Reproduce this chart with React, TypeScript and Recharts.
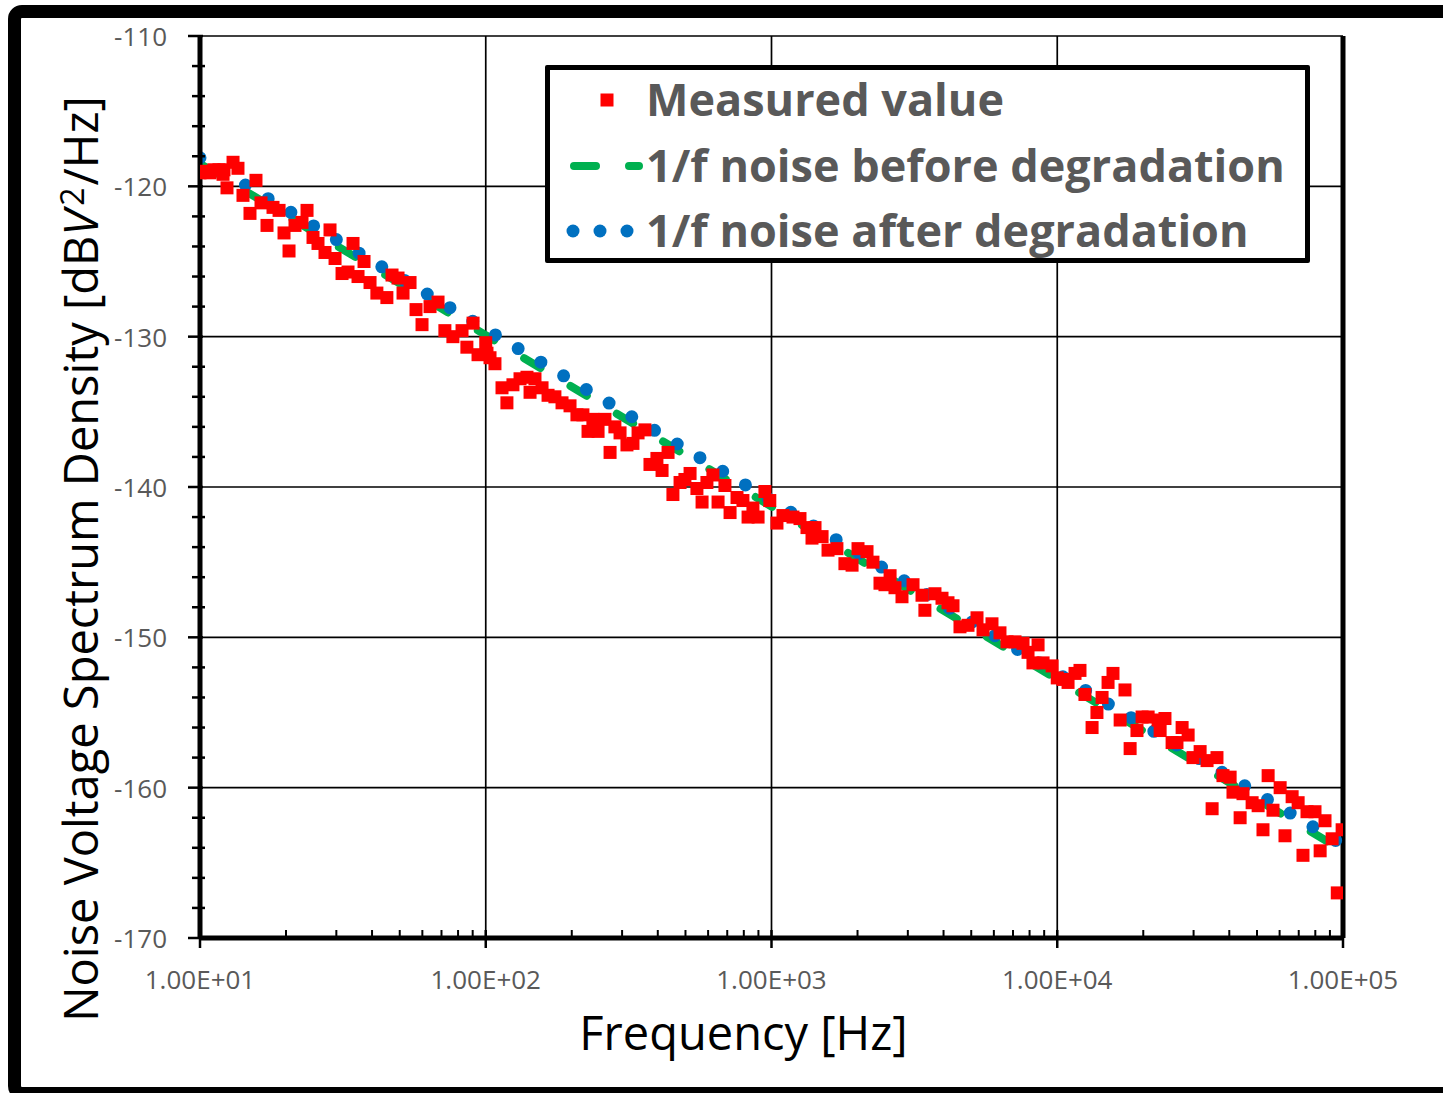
import React from "react";
import {
  CartesianGrid,
  ComposedChart,
  Label,
  Legend,
  Line,
  ReferenceLine,
  Scatter,
  XAxis,
  YAxis,
} from "recharts";

// measured spectrum
const measuredFreq = [
  10, 10.41, 10.84, 11.19, 11.65, 12.04, 12.13, 12.43, 13.05, 13.58, 14.14,
  14.96, 15.7, 16.35, 17.16, 18.01, 18.91, 19.68, 20.49, 21.5, 22.75, 23.69,
  24.86, 25.88, 27.38, 28.51, 29.69, 31.41, 32.96, 34.32, 35.73, 37.5, 39.36,
  41.59, 45.08, 46.99, 49.32, 51.35, 54.33, 57.02, 59.84, 63.83, 68.08, 71.94,
  76.74, 82.6, 85.9, 90.28, 93.97,
  100, 101, 103.5, 107.7, 114, 118.6, 124.5, 131.8, 139.4, 142.9, 148.7, 157.4,
  165.2, 174.6, 184.9, 197.2, 208.5, 218.8, 228, 237.1, 247.2, 261.3, 272.3,
  283.1, 295.1, 312, 327.5, 341.2, 360.6, 375.6, 397.2, 414, 434.5, 451.9,
  478.6, 497.7, 518.8, 548.3, 571.5, 594.3, 623.7, 650.1, 687.1, 716.1, 757.4,
  794.3, 827.9, 861, 897.5, 948.4, 986.3,
  1045, 1097, 1189, 1258, 1331, 1386, 1420, 1503, 1577, 1694, 1807, 1914, 2008,
  2159, 2265, 2397, 2495, 2600, 2705, 2862, 3128, 3363, 3442, 3733, 3951, 4146,
  4317, 4567, 4871, 5238, 5499, 5910, 6303, 6671, 7116, 7590, 7902, 8222, 8568,
  8920, 9597,
  10000, 10470, 10910, 11540, 12010, 12500, 13240, 13770, 14350, 15060, 15670,
  16600, 17260, 17990, 19010, 19810, 20800, 22540, 22910, 23820, 25230, 26240,
  27350, 28710, 29860, 31620, 33440, 34830, 36220, 38020, 40270, 41210, 43650,
  44670, 48080, 50470, 52480, 54700, 56890, 60260, 62660, 66370, 69660, 72440,
  74820, 79800, 83180, 86500, 91600, 95500, 99300,
];
const measuredDb = [
  -119.1, -119.0, -119.1, -118.9, -118.9, -119.2, -118.9, -120.1, -118.4,
  -118.8, -120.6, -121.8, -119.6, -121.1, -122.6, -121.4, -121.6, -123.1,
  -124.3, -122.6, -122.4, -121.6, -123.4, -123.8, -124.4, -122.9, -124.8,
  -125.8, -125.7, -123.8, -126.0, -125.0, -126.4, -127.1, -127.4, -125.9,
  -126.1, -127.1, -126.4, -128.2, -129.2, -128.0, -127.7, -129.6, -130.0,
  -129.6, -130.7, -129.1, -131.2,
  -130.4, -131.1, -131.4, -131.8, -133.4, -134.4, -133.2, -132.8, -132.7,
  -133.7, -132.8, -133.4, -133.9, -134.0, -134.4, -134.6, -135.2, -135.2,
  -136.3, -135.5, -136.3, -135.5, -137.7, -136.0, -136.4, -137.2, -137.1,
  -136.4, -136.2, -138.5, -138.1, -138.9, -137.7, -140.5, -139.7, -139.5,
  -139.1, -140.1, -141.0, -139.7, -139.2, -141.0, -139.9, -141.7, -140.7,
  -140.9, -142.0, -141.4, -142.0, -140.3, -140.9,
  -142.4, -141.9, -142.0, -142.1, -142.7, -143.4, -142.7, -143.3, -144.2,
  -144.1, -145.1, -145.2, -144.1, -144.3, -145.0, -146.4, -146.5, -145.9,
  -146.7, -147.3, -146.5, -147.2, -148.2, -147.1, -147.4, -147.7, -147.9,
  -149.3, -149.2, -148.7, -149.5, -149.1, -149.7, -150.3, -150.3, -150.4,
  -151.0, -151.7, -150.5, -151.7, -151.9,
  -152.7, -152.8, -153.0, -152.4, -152.2, -153.8, -156.0, -155.0, -154.0,
  -153.0, -152.4, -155.5, -153.5, -157.4, -156.2, -155.3, -155.3, -155.5,
  -156.2, -155.4, -157.0, -157.0, -156.0, -156.5, -158.0, -157.6, -158.2,
  -161.4, -158.0, -159.2, -159.3, -160.3, -162.0, -160.4, -161.0, -161.2,
  -162.8, -159.2, -161.5, -160.0, -163.2, -160.6, -161.0, -164.5, -161.6,
  -161.6, -164.2, -162.2, -163.4, -167.0, -162.8,
];

// 1/f fits, read at each decade
const fitFreq = [10, 100, 1000, 10000, 100000];
const beforeDb = [-118.5, -129.9, -141.3, -152.8, -164.2];
const afterDb = [-118.1, -129.5, -140.9, -152.4, -163.8];

const xMajorTicks = [10, 100, 1000, 10000, 100000];
const xTickLabels = ["1.00E+01", "1.00E+02", "1.00E+03", "1.00E+04", "1.00E+05"];
const xMinorSteps = [2, 3, 4, 5, 6, 7, 8, 9];
const yMajorTicks = [-170, -160, -150, -140, -130, -120, -110];
const yMinorStep = 2;

const measured = measuredFreq.map((f, i) => ({ f, db: measuredDb[i] }));
const before = fitFreq.map((f, i) => ({ f, db: beforeDb[i] }));
const after = fitFreq.map((f, i) => ({ f, db: afterDb[i] }));

const xTicks = xMajorTicks.flatMap((d, i) =>
  i < xMajorTicks.length - 1 ? [d, ...xMinorSteps.map((s) => s * d)] : [d]
);
const yTicks: number[] = [];
for (let v = yMajorTicks[0]; v <= yMajorTicks[yMajorTicks.length - 1]; v += yMinorStep) yTicks.push(v);

const tickGrey = "#595959";

function XTick({ x, y, payload }: any) {
  const i = xMajorTicks.indexOf(payload.value);
  if (i < 0) {
    return <line x1={x} x2={x} y1={y - 8} y2={y} stroke="#000" strokeWidth={2} />;
  }
  return (
    <g>
      <line x1={x} x2={x} y1={y - 8} y2={y + 10} stroke="#000" strokeWidth={2.5} />
      <text x={x} y={y + 51} textAnchor="middle" fontSize={26} fill={tickGrey}>
        {xTickLabels[i]}
      </text>
    </g>
  );
}

function YTick({ x, y, payload }: any) {
  const major = payload.value % 10 === 0;
  return (
    <g>
      <line
        x1={major ? x - 12 : x - 8}
        x2={major ? x + 3 : x + 5}
        y1={y}
        y2={y}
        stroke="#000"
        strokeWidth={2.5}
      />
      {major && (
        <text x={x - 33} y={y + 10} textAnchor="end" fontSize={26} fill={tickGrey}>
          {payload.value}
        </text>
      )}
    </g>
  );
}

function YTitle({ viewBox }: any) {
  const cx = viewBox.x + viewBox.width - 102;
  const cy = viewBox.y + viewBox.height / 2 + 72;
  return (
    <text
      x={cx}
      y={cy}
      transform={`rotate(-90 ${cx} ${cy})`}
      textAnchor="middle"
      fontSize={47}
      fill="#000"
    >
      Noise Voltage Spectrum Density [dB
      <tspan fontStyle="italic">V</tspan>
      <tspan fontSize={32} dy={-14} dx={4}>2</tspan>
      <tspan dy={14} dx={2}>/Hz]</tspan>
    </text>
  );
}

function XTitle({ viewBox }: any) {
  return (
    <text
      x={viewBox.x + viewBox.width / 2 - 28}
      y={viewBox.y + 112}
      textAnchor="middle"
      fontSize={47}
      fill="#000"
    >
      Frequency [Hz]
    </text>
  );
}

const Square = (props: any) => (
  <rect x={props.cx - 6.5} y={props.cy - 6.5} width={13} height={13} fill="#FF0000" />
);

const legendRows = [
  { label: "Measured value", top: -1 },
  { label: "1/f noise before degradation", top: 65 },
  { label: "1/f noise after degradation", top: 130 },
];

function LegendBox() {
  return (
    <div
      style={{
        position: "relative",
        boxSizing: "border-box",
        width: "100%",
        height: "100%",
        border: "5px solid #000",
        borderRadius: 2,
        background: "#fff",
      }}
    >
      {legendRows.map((r, i) => (
        <div key={r.label} style={{ position: "absolute", left: 0, top: r.top, height: 60, width: "100%" }}>
          <svg width={100} height={60} style={{ position: "absolute", left: 0, top: 0 }}>
            {i === 0 && <rect x={50.5} y={24.5} width={13} height={13} fill="#FF0000" />}
            {i === 1 && (
              <line
                x1={24}
                x2={89}
                y1={31}
                y2={31}
                stroke="#00B050"
                strokeWidth={8}
                strokeLinecap="round"
                strokeDasharray="22 33"
              />
            )}
            {i === 2 &&
              [23, 50, 77].map((cx) => <circle key={cx} cx={cx} cy={31} r={6.5} fill="#0070C0" />)}
          </svg>
          <div
            style={{
              position: "absolute",
              left: 96,
              top: 0,
              lineHeight: "60px",
              fontSize: 45,
              fontWeight: 700,
              color: tickGrey,
              whiteSpace: "nowrap",
            }}
          >
            {r.label}
          </div>
        </div>
      ))}
    </div>
  );
}

export default function App() {
  return (
    <div
      style={{
        position: "absolute",
        left: 0,
        top: 0,
        width: 1443,
        height: 1093,
        overflow: "hidden",
        background: "#fff",
        fontFamily: "'Open Sans', sans-serif",
      }}
    >
      <div
        style={{
          position: "absolute",
          left: 8,
          top: 5,
          width: 1480,
          height: 1095,
          border: "13px solid #000",
          borderRadius: 14,
          boxSizing: "border-box",
        }}
      />
      <div style={{ position: "absolute", left: 0, top: 0 }}>
        <ComposedChart
          width={1443}
          height={1093}
          margin={{ top: 36, right: 100, bottom: 95, left: 140 }}
        >
          <CartesianGrid
            stroke="#000"
            strokeWidth={1.7}
            horizontalValues={yMajorTicks}
            verticalValues={xMajorTicks}
          />
          <XAxis
            dataKey="f"
            type="number"
            scale="log"
            domain={[10, 100000]}
            allowDataOverflow
            ticks={xTicks}
            interval={0}
            height={60}
            tickLine={false}
            tickSize={0}
            tickMargin={0}
            axisLine={{ stroke: "#000", strokeWidth: 5 }}
            tick={XTick}
          >
            <Label content={XTitle} />
          </XAxis>
          <YAxis
            dataKey="db"
            type="number"
            domain={[-170, -110]}
            allowDataOverflow
            ticks={yTicks}
            interval={0}
            width={60}
            tickLine={false}
            tickSize={0}
            tickMargin={0}
            axisLine={{ stroke: "#000", strokeWidth: 5 }}
            tick={YTick}
          >
            <Label content={YTitle} />
          </YAxis>
          <ReferenceLine x={100000} stroke="#000" strokeWidth={5} />
          <Line
            data={before}
            dataKey="db"
            type="linear"
            stroke="#00B050"
            strokeWidth={8}
            strokeDasharray="19 35"
            strokeLinecap="round"
            dot={false}
            activeDot={false}
            isAnimationActive={false}
          />
          <Line
            data={after}
            dataKey="db"
            type="linear"
            stroke="#0070C0"
            strokeWidth={13}
            strokeDasharray="0 26.5"
            strokeLinecap="round"
            dot={false}
            activeDot={false}
            isAnimationActive={false}
          />
          <Scatter
            data={measured}
            dataKey="db"
            shape={Square}
            isAnimationActive={false}
          />
          <Legend
            layout="vertical"
            align="center"
            verticalAlign="middle"
            wrapperStyle={{ left: 545, top: 65, width: 765, height: 198 }}
            content={() => <LegendBox />}
          />
        </ComposedChart>
      </div>
    </div>
  );
}
